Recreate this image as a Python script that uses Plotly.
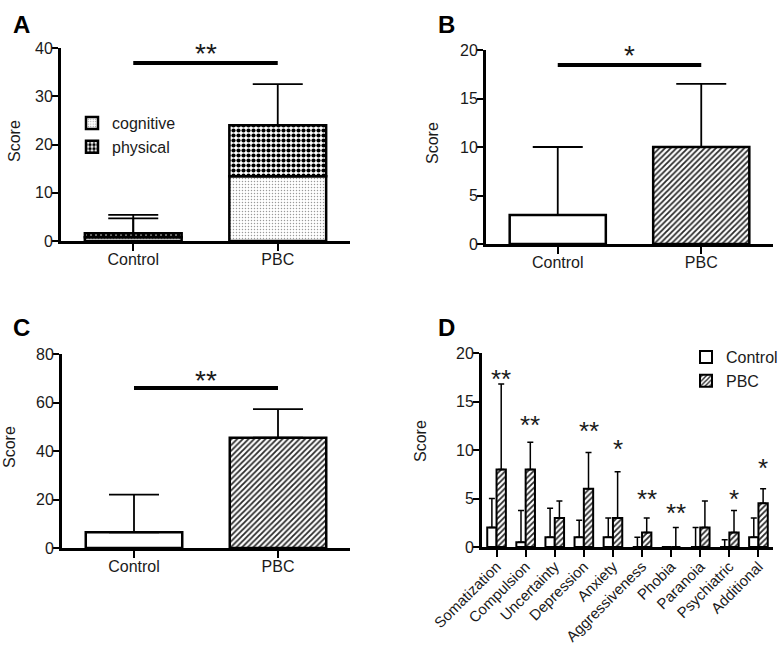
import plotly.graph_objects as go

W, H = 778, 654
FONT = "Liberation Sans, Arial, sans-serif"

# ---------------- data ----------------
groups = ["Control", "PBC"]

# Panel A (stacked: cognitive + physical)
a_cognitive = [0.8, 13.4]
a_cognitive_err = [3.9, 9.2]
a_physical = [0.8, 10.6]
a_physical_err = [3.8, 8.5]
a_sig_y = 36.9
a_sig_text = "**"

# Panel B
b_values = [3.0, 10.0]
b_err = [7.0, 6.5]
b_sig_y = 18.45
b_sig_text = "*"

# Panel C
c_values = [6.5, 45.5]
c_err = [15.5, 11.8]
c_sig_y = 66.0
c_sig_text = "**"

# Panel D
d_categories = ["Somatization", "Compulsion", "Uncertainty", "Depression", "Anxiety",
                "Aggressiveness", "Phobia", "Paranoia", "Psychiatric", "Additional"]
d_control = [2, 0.5, 1, 1, 1, 0, 0, 0, 0, 1]
d_control_err = [3, 3.25, 3, 1.75, 2, 1, 0, 2, 0.75, 2]
d_pbc = [8, 8, 3, 6, 3, 1.5, 0, 2, 1.5, 4.5]
d_pbc_err = [8.8, 2.8, 1.75, 3.75, 4.75, 1.5, 2, 2.75, 2.25, 1.5]
d_stars = ["**", "**", "", "**", "*", "**", "**", "", "*", "*"]
d_star_y = [17.9, 13.2, None, 12.6, 10.7, 5.6, 4.1, None, 5.6, 8.8]

# ---------------- helpers ----------------
def px_x(p):
    return p / W

def px_y(p):
    return 1 - p / H

dom = {
    "A": dict(x=[px_x(61), px_x(350)], y=[px_y(241), px_y(48)]),
    "B": dict(x=[px_x(486), px_x(773)], y=[px_y(244), px_y(50)]),
    "C": dict(x=[px_x(62), px_x(350)], y=[px_y(548), px_y(354)]),
    "D": dict(x=[px_x(482), px_x(773)], y=[px_y(547), px_y(353)]),
}

cog_pattern = dict(shape=".", fgcolor="#9a9a9a", bgcolor="#ffffff", size=3, solidity=0.18, fillmode="replace")
phys_pattern = dict(shape=".", fgcolor="#000000", bgcolor="#ffffff", size=5, solidity=0.55, fillmode="replace")
hatch_pattern = dict(shape="/", fgcolor="#2a2a2a", bgcolor="#ffffff", size=4, solidity=0.45, fillmode="replace")

def err(arr, w, th=1.6):
    return dict(type="data", array=arr, arrayminus=[0] * len(arr), symmetric=False,
                color="black", thickness=th, width=w, visible=True)

fig = go.Figure()

BW = 0.67
OUT = dict(color="black", width=2.5)
# Panel A
fig.add_trace(go.Bar(x=groups, y=a_cognitive, name="cognitive", width=BW,
                     marker=dict(color="white", pattern=cog_pattern, line=OUT),
                     error_y=err(a_cognitive_err, 25, 1.8), xaxis="x", yaxis="y", legend="legend"))
fig.add_trace(go.Bar(x=groups, y=a_physical, base=a_cognitive, name="physical", width=BW,
                     marker=dict(color="white", pattern=phys_pattern, line=OUT),
                     error_y=err(a_physical_err, 25, 1.8), xaxis="x", yaxis="y", legend="legend"))

# Panels B and C: Control (open) and PBC (hatched)
for vals, errs, xa, ya in [(b_values, b_err, "x2", "y2"), (c_values, c_err, "x3", "y3")]:
    fig.add_trace(go.Bar(x=groups[:1], y=vals[:1], width=BW, showlegend=False,
                         marker=dict(color="white", line=OUT),
                         error_y=err(errs[:1], 25, 1.8), xaxis=xa, yaxis=ya))
    fig.add_trace(go.Bar(x=groups[1:], y=vals[1:], width=BW, showlegend=False,
                         marker=dict(color="white", pattern=hatch_pattern, line=OUT),
                         error_y=err(errs[1:], 25, 1.8), xaxis=xa, yaxis=ya))

# Panel D
DW = 0.32
fig.add_trace(go.Bar(x=d_categories, y=d_control, name="Control", width=DW, offset=-DW,
                     marker=dict(color="white", line=dict(color="black", width=2)),
                     error_y=err(d_control_err, 3, 1.5), xaxis="x4", yaxis="y4", legend="legend2"))
fig.add_trace(go.Bar(x=d_categories, y=d_pbc, name="PBC", width=DW, offset=0,
                     marker=dict(color="white", pattern=hatch_pattern, line=dict(color="black", width=2)),
                     error_y=err(d_pbc_err, 3, 1.5), xaxis="x4", yaxis="y4", legend="legend2"))

# ---------------- axes ----------------
tickfont = dict(family=FONT, size=16, color="#1a1a1a")

def xax(d, cats, anchor, angle=0, size=16):
    return dict(domain=d, type="category", categoryorder="array", categoryarray=cats,
                range=[-0.5, len(cats) - 0.5], showline=True, linewidth=3, linecolor="black",
                ticks="outside", ticklen=7, tickwidth=2, tickcolor="black", showgrid=False,
                zeroline=False, tickfont=dict(tickfont, size=size), tickangle=angle, fixedrange=True,
                automargin=False, anchor=anchor, ticklabelstandoff=-5)

def yax(d, rng, dt, anchor):
    return dict(domain=d, range=rng, dtick=dt, tick0=0, showline=True, linewidth=3, linecolor="black",
                ticks="outside", ticklen=6, tickwidth=2, tickcolor="black", showgrid=False,
                zeroline=False, tickfont=tickfont, anchor=anchor, fixedrange=True, automargin=False,
                ticklabelstandoff=-4)

fig.update_layout(
    width=W, height=H, margin=dict(l=0, r=0, t=0, b=0, autoexpand=False),
    paper_bgcolor="white", plot_bgcolor="white",
    barmode="overlay",
    font=dict(family=FONT, size=16, color="#1a1a1a"),
    xaxis=xax(dom["A"]["x"], groups, "y"),
    yaxis=yax(dom["A"]["y"], [0, 40], 10, "x"),
    xaxis2=xax(dom["B"]["x"], groups, "y2"),
    yaxis2=yax(dom["B"]["y"], [0, 20], 5, "x2"),
    xaxis3=xax(dom["C"]["x"], groups, "y3"),
    yaxis3=yax(dom["C"]["y"], [0, 80], 20, "x3"),
    xaxis4=xax(dom["D"]["x"], d_categories, "y4", -45, 15),
    yaxis4=yax(dom["D"]["y"], [0, 20], 5, "x4"),
    legend=dict(x=px_x(72), y=px_y(106), xanchor="left", yanchor="top",
                font=dict(family=FONT, size=16, color="#1a1a1a"), bgcolor="rgba(0,0,0,0)",
                traceorder="normal", tracegroupgap=0),
    legend2=dict(x=px_x(686), y=px_y(340), xanchor="left", yanchor="top",
                 font=dict(family=FONT, size=16, color="#1a1a1a"), bgcolor="rgba(0,0,0,0)",
                 traceorder="normal"),
)

# ---------------- significance bars & stars ----------------
shapes = []
annotations = []
for xr, yr, sy in [("x", "y", a_sig_y), ("x2", "y2", b_sig_y), ("x3", "y3", c_sig_y)]:
    shapes.append(dict(type="line", xref=xr, yref=yr, x0=0, x1=1, y0=sy, y1=sy,
                       line=dict(color="black", width=4)))

star_font = dict(family=FONT, size=28, color="#1a1a1a")
for xr, yr, sy, stext in [("x", "y", 39.8, a_sig_text), ("x2", "y2", 19.9, b_sig_text),
                          ("x3", "y3", 71.3, c_sig_text)]:
    annotations.append(dict(xref=xr, yref=yr, x=0.5, y=sy, text=stext, showarrow=False,
                            font=star_font, yanchor="middle", yshift=-5))

for i, (s, sy) in enumerate(zip(d_stars, d_star_y)):
    if s and sy is not None:
        annotations.append(dict(xref="x4", yref="y4", x=i + DW / 2, y=sy, text=s, showarrow=False,
                                font=dict(family=FONT, size=26, color="#1a1a1a"),
                                yanchor="middle", yshift=-6))

# panel letters
for letter, cx, cy in [("A", 21, 25), ("B", 447, 25), ("C", 21, 328), ("D", 447, 328)]:
    annotations.append(dict(xref="paper", yref="paper", x=px_x(cx), y=px_y(cy), text=f"<b>{letter}</b>",
                            showarrow=False, xanchor="center", yanchor="middle",
                            font=dict(family=FONT, size=24, color="black")))

# y titles
for cx, cy in [(14, 141), (432, 143), (9, 447), (421, 441)]:
    annotations.append(dict(xref="paper", yref="paper", x=px_x(cx), y=px_y(cy), text="Score",
                            textangle=-90, showarrow=False, xanchor="center", yanchor="middle",
                            font=dict(family=FONT, size=16, color="#1a1a1a")))

fig.update_layout(shapes=shapes, annotations=annotations)
fig.write_html("out.html", config={"displayModeBar": False},
               post_script="document.body.style.margin='0px';document.body.style.overflow='hidden';")
